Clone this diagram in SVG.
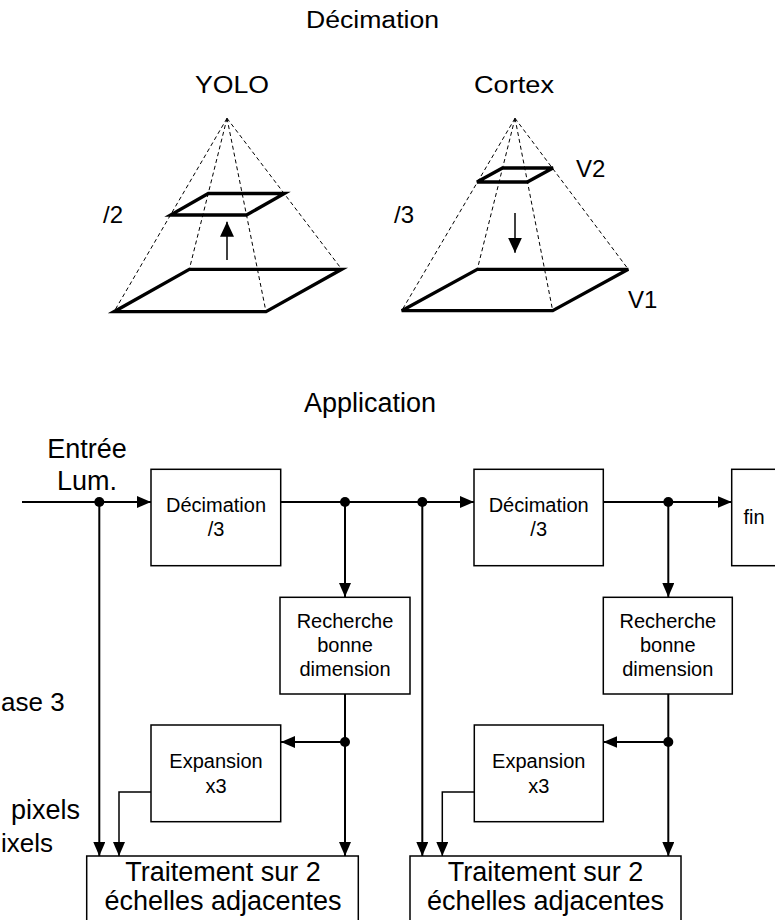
<svg xmlns="http://www.w3.org/2000/svg" width="775" height="920" viewBox="0 0 775 920">
<style>
text{font-family:"Liberation Sans",Arial,sans-serif;fill:#000}
.big{font-size:27px}
.edge{font-size:26px}
.top{font-size:23.5px}
.mid{font-size:24px}
.sm{font-size:20px}
.box{fill:#fff;stroke:#000;stroke-width:1.5}
.sq{fill:none;stroke:#000;stroke-width:3.3;stroke-linejoin:miter}
.dash{fill:none;stroke:#000;stroke-width:1;stroke-dasharray:4 3}
.c{fill:none;stroke:#000;stroke-width:2}
.c2{fill:none;stroke:#000;stroke-width:1.5}
.dot{fill:#000}
</style>
<defs>
<marker id="ah" markerUnits="userSpaceOnUse" markerWidth="14" markerHeight="12" refX="14" refY="6" orient="auto">
<path d="M0,0 L14,6 L0,12 z" fill="#000"/>
</marker>
<marker id="ahp" markerUnits="userSpaceOnUse" markerWidth="15" markerHeight="14" refX="15" refY="7" orient="auto">
<path d="M0,0 L15,7 L0,14 z" fill="#000"/>
</marker>
</defs>

<!-- Top section -->
<g id="top-title">
<text class="top" x="306" y="28" textLength="133" lengthAdjust="spacingAndGlyphs">Décimation</text>
</g>

<g id="pyramid-yolo">
<text class="top" x="195" y="93" textLength="74" lengthAdjust="spacingAndGlyphs">YOLO</text>
<path class="dash" d="M227,118.3 L114,311.7 M227,118.3 L189.3,269.3 M227,118.3 L266,311.7 M227,118.3 L341.7,269.3"/>
<polygon class="sq" points="114,311.7 266,311.7 341.7,269.3 189.3,269.3"/>
<polygon class="sq" points="170.5,215 246.5,215 284.5,193.5 208.3,193.5"/>
<line class="c2" x1="227" y1="260" x2="227" y2="221.7" marker-end="url(#ahp)"/>
<text class="mid" x="103" y="223">/2</text>
</g>

<g id="pyramid-cortex">
<text class="top" x="474" y="93" textLength="80" lengthAdjust="spacingAndGlyphs">Cortex</text>
<path class="dash" d="M515,118.3 L401.7,310.7 M515,118.3 L477.3,269.3 M515,118.3 L552.7,310.7 M515,118.3 L628.3,269.3"/>
<polygon class="sq" points="401.7,310.7 552.7,310.7 628.3,269.3 477.3,269.3"/>
<polygon class="sq" points="477,182 527.3,182 553,168 502.5,168"/>
<line class="c2" x1="515" y1="213" x2="515" y2="252.7" marker-end="url(#ahp)"/>
<text class="mid" x="394" y="223">/3</text>
<text class="mid" x="576" y="177">V2</text>
<text class="mid" x="628" y="308">V1</text>
</g>

<!-- Bottom section labels -->
<g id="app-title"><text class="big" x="370" y="412" text-anchor="middle">Application</text></g>
<g id="input-label">
<text class="big" x="87" y="458" text-anchor="middle">Entrée</text>
<text class="big" x="87" y="490" text-anchor="middle">Lum.</text>
</g>
<g id="left-labels">
<text class="edge" x="1" y="711">ase 3</text>
<text class="big" x="80" y="819" text-anchor="end">pixels</text>
<text class="edge" x="1" y="852">ixels</text>
</g>

<!-- Connectors -->
<g id="connectors">
<path class="c" d="M22,502 H151" marker-end="url(#ah)"/>
<path class="c" d="M281,502 H474" marker-end="url(#ah)"/>
<path class="c" d="M603.3,502 H731.7" marker-end="url(#ah)"/>
<path class="c" d="M345,502 V597" marker-end="url(#ah)"/>
<path class="c" d="M345,694 V856" marker-end="url(#ah)"/>
<path class="c" d="M345,742 H281" marker-end="url(#ah)"/>
<path class="c2" d="M151,792 H119 V856" marker-end="url(#ah)"/>
<path class="c" d="M99.3,502 V856" marker-end="url(#ah)"/>
<path class="c" d="M668.3,502 V597" marker-end="url(#ah)"/>
<path class="c" d="M668.3,694 V856" marker-end="url(#ah)"/>
<path class="c" d="M668.3,742 H603.3" marker-end="url(#ah)"/>
<path class="c2" d="M474.3,792 H442.3 V856" marker-end="url(#ah)"/>
<path class="c" d="M422.3,502 V856" marker-end="url(#ah)"/>
<circle class="dot" cx="99.3" cy="502" r="5"/>
<circle class="dot" cx="345" cy="502" r="5"/>
<circle class="dot" cx="422.3" cy="502" r="5"/>
<circle class="dot" cx="668.3" cy="502" r="5"/>
<circle class="dot" cx="345" cy="742" r="5"/>
<circle class="dot" cx="668.3" cy="742" r="5"/>
</g>

<!-- Nodes -->
<g id="decimation1">
<rect class="box" x="151" y="469.3" width="129.7" height="96.4"/>
<text class="sm" x="216" y="512.3" text-anchor="middle">Décimation</text>
<text class="sm" x="216" y="536" text-anchor="middle">/3</text>
</g>
<g id="decimation2">
<rect class="box" x="474" y="469.3" width="129.3" height="96.4"/>
<text class="sm" x="538.7" y="512.3" text-anchor="middle">Décimation</text>
<text class="sm" x="538.7" y="536" text-anchor="middle">/3</text>
</g>
<g id="fin">
<rect class="box" x="731.7" y="469.3" width="60" height="96.4"/>
<text class="sm" x="743.5" y="524.3">fin</text>
</g>
<g id="recherche1">
<rect class="box" x="280" y="597.3" width="130" height="96.7"/>
<text class="sm" x="345" y="628.3" text-anchor="middle">Recherche</text>
<text class="sm" x="345" y="651.5" text-anchor="middle">bonne</text>
<text class="sm" x="345" y="675.5" text-anchor="middle">dimension</text>
</g>
<g id="recherche2">
<rect class="box" x="603.3" y="597.3" width="129" height="96.7"/>
<text class="sm" x="667.8" y="628.3" text-anchor="middle">Recherche</text>
<text class="sm" x="667.8" y="651.5" text-anchor="middle">bonne</text>
<text class="sm" x="667.8" y="675.5" text-anchor="middle">dimension</text>
</g>
<g id="expansion1">
<rect class="box" x="151" y="725" width="129.7" height="96.7"/>
<text class="sm" x="216" y="767.7" text-anchor="middle">Expansion</text>
<text class="sm" x="216" y="792.7" text-anchor="middle">x3</text>
</g>
<g id="expansion2">
<rect class="box" x="474.3" y="725" width="129" height="96.7"/>
<text class="sm" x="538.8" y="767.7" text-anchor="middle">Expansion</text>
<text class="sm" x="538.8" y="792.7" text-anchor="middle">x3</text>
</g>
<g id="traitement1">
<rect class="box" x="86.7" y="856" width="271.6" height="70"/>
<text class="big" x="223" y="881" text-anchor="middle">Traitement sur 2</text>
<text class="big" x="223" y="910" text-anchor="middle">échelles adjacentes</text>
</g>
<g id="traitement2">
<rect class="box" x="410" y="856" width="271" height="70"/>
<text class="big" x="545.5" y="881" text-anchor="middle">Traitement sur 2</text>
<text class="big" x="545.5" y="910" text-anchor="middle">échelles adjacentes</text>
</g>
</svg>
